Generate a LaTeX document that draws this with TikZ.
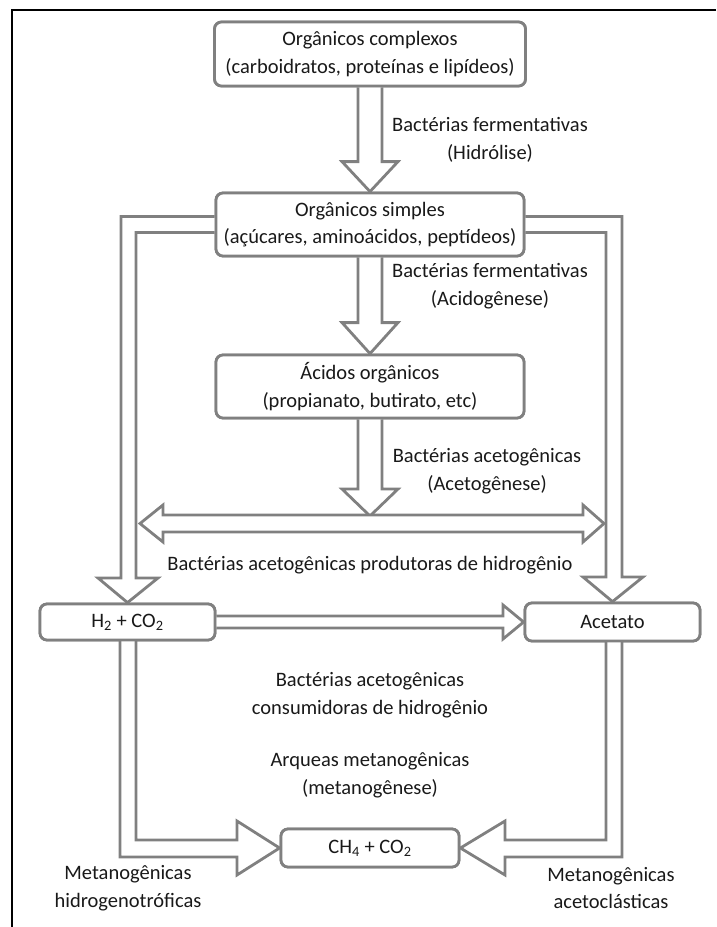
\documentclass[tikz,border=0pt]{standalone}
\usepackage{fontspec}
\setmainfont{Carlito}
\usetikzlibrary{calc}
\definecolor{linegray}{RGB}{128,128,128}
\definecolor{textc}{RGB}{25,25,25}
\begin{document}
\begin{tikzpicture}[x=1pt,y=-1pt,
  box/.style={draw=linegray, line width=2.8pt, rounded corners=7pt, fill=white,
    inner sep=0pt, align=center, text=textc, font=\fontsize{20.5}{27.5}\selectfont},
  harrow/.style={draw=linegray, line width=2.8pt, fill=white, line join=miter},
  lbl/.style={align=center, text=textc, inner sep=0pt, font=\fontsize{20.5}{27.5}\selectfont},
  frame/.style={draw=black, line width=1.3pt}]
\useasboundingbox (0,0) rectangle (716,927);
\draw[frame] (716,10) -- (12,10) -- (12,927);

% boxes (placed first to get anchors, redrawn on top later)
\node[box, minimum width=311pt, minimum height=64pt] (b1) at (370,54) {Orgânicos complexos\\(carboidratos, proteínas e lipídeos)};
\node[box, minimum width=308pt, minimum height=63pt] (b2) at (370,224.5) {Orgânicos simples\\(açúcares, aminoácidos, peptídeos)};
\node[box, minimum width=308pt, minimum height=63pt] (b3) at (370,386.5) {Ácidos orgânicos\\(propianato, butirato, etc)};
\node[box, minimum width=175pt, minimum height=36pt] (h2) at (127.5,622) {H\textsubscript{2} + CO\textsubscript{2}};
\node[box, minimum width=175pt, minimum height=38pt] (ac) at (612.5,622) {Acetato};
\node[box, minimum width=178pt, minimum height=38pt] (ch4) at (370,848) {CH\textsubscript{4} + CO\textsubscript{2}};

% central arrows
\draw[harrow] ($(b1.south)+(-12,0)$) -- ($(b2.north)+(-12,-30)$) -- ($(b2.north)+(-28,-30)$) -- (b2.north)
  -- ($(b2.north)+(28,-30)$) -- ($(b2.north)+(12,-30)$) -- ($(b1.south)+(12,0)$);
\draw[harrow] ($(b2.south)+(-12,0)$) -- ($(b3.north)+(-12,-31)$) -- ($(b3.north)+(-28,-31)$) -- (b3.north)
  -- ($(b3.north)+(28,-31)$) -- ($(b3.north)+(12,-31)$) -- ($(b2.south)+(12,0)$);
\coordinate (mid) at (370,516);
\draw[harrow] ($(b3.south)+(-12,0)$) -- ($(mid)+(-12,-27)$) -- ($(mid)+(-28,-27)$) -- (mid)
  -- ($(mid)+(28,-27)$) -- ($(mid)+(12,-27)$) -- ($(b3.south)+(12,0)$);

% side L arrows from b2
\draw[harrow] ($(b2.west)+(0,-8)$) -- (121,216.5) -- (121,578) -- (98,578) -- (h2.north)
  -- (158,578) -- (136,578) -- (136,232.5) -- ($(b2.west)+(0,8)$);
\draw[harrow] ($(b2.east)+(0,-8)$) -- (622,216.5) -- (622,577) -- (643,577) -- (ac.north)
  -- (583,577) -- (606,577) -- (606,232.5) -- ($(b2.east)+(0,8)$);

% double arrow
\coordinate (dl) at (140,523.5);
\coordinate (dr) at (604,523.5);
\draw[harrow] (dl) -- (163,505) -- (163,515) -- (583,515) -- (583,505) -- (dr)
  -- (583,542) -- (583,532) -- (163,532) -- (163,542) -- cycle;

% H2 -> Acetato
\draw[harrow] ($(h2.east)+(0,-6)$) -- (503,616) -- (503,605) -- (ac.west)
  -- (503,639) -- (503,628) -- ($(h2.east)+(0,6)$);

% bottom L arrows
\draw[harrow] (120,640) -- (120,857) -- (237,857) -- (237,875) -- (ch4.west)
  -- (237,821) -- (237,840) -- (136,840) -- (136,640);
\draw[harrow] (622,641) -- (622,857) -- (505,857) -- (505,875) -- (ch4.east)
  -- (505,821) -- (505,840) -- (606,840) -- (606,641);

% redraw boxes on top
\node[box, minimum width=311pt, minimum height=64pt] at (b1) {Orgânicos complexos\\(carboidratos, proteínas e lipídeos)};
\node[box, minimum width=308pt, minimum height=63pt] at (b2) {Orgânicos simples\\(açúcares, aminoácidos, peptídeos)};
\node[box, minimum width=308pt, minimum height=63pt] at (b3) {Ácidos orgânicos\\(propianato, butirato, etc)};
\node[box, minimum width=175pt, minimum height=36pt] at (h2) {H\textsubscript{2} + CO\textsubscript{2}};
\node[box, minimum width=175pt, minimum height=38pt] at (ac) {Acetato};
\node[box, minimum width=178pt, minimum height=38pt] at (ch4) {CH\textsubscript{4} + CO\textsubscript{2}};

% labels
\node[lbl] (l1) at (490,140) {Bactérias fermentativas\\(Hidrólise)};
\node[lbl] (l2) at (490,286) {Bactérias fermentativas\\(Acidogênese)};
\node[lbl] (l3) at (487,471) {Bactérias acetogênicas\\(Acetogênese)};
\node[lbl] (l4) at (370,565) {Bactérias acetogênicas produtoras de hidrogênio};
\node[lbl] (l5) at (370,695) {Bactérias acetogênicas\\consumidoras de hidrogênio};
\node[lbl] (l6) at (370,775) {Arqueas metanogênicas\\(metanogênese)};
\node[lbl] (l7) at (128,888) {Metanogênicas\\hidrogenotróficas};
\node[lbl] (l8) at (611,888) {Metanogênicas\\acetoclásticas};
\end{tikzpicture}
\end{document}
